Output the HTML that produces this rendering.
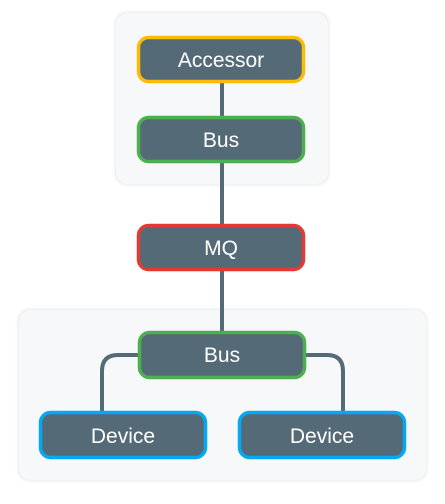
<!DOCTYPE html>
<html><head><style>body{margin:0;background:#fff}</style></head><body>
<svg width="445" height="499" xmlns="http://www.w3.org/2000/svg" font-family="Liberation Sans, sans-serif">
<defs><filter id="s" x="-10%" y="-10%" width="120%" height="120%"><feGaussianBlur stdDeviation="1.5"/></filter></defs>
<rect x="115" y="12" width="214" height="173" rx="12" fill="#e6e9eb" filter="url(#s)"/>
<rect x="116" y="13" width="212" height="171" rx="12" fill="#f7f8f9"/>
<rect x="18" y="309" width="409" height="172" rx="12" fill="#e6e9eb" filter="url(#s)"/>
<rect x="19" y="310" width="407" height="170" rx="12" fill="#f7f8f9"/>
<g stroke="#546a76" stroke-width="4" fill="none">
<line x1="222" y1="83" x2="222" y2="332"/>
<path d="M139 355 H118 Q102 355 102 371 V412"/>
<path d="M304 355 H327 Q343 355 343 371 V412"/>
</g>
<g stroke-width="3.5" fill="#546a76">
<rect x="138.5" y="37.5" width="165" height="44" rx="10" stroke="#fbbc05"/>
<rect x="138.5" y="117.5" width="165" height="44" rx="10" stroke="#4caf50"/>
<rect x="138.5" y="225.5" width="165" height="44" rx="10" stroke="#e53935"/>
<rect x="139.5" y="332.5" width="165" height="45" rx="10" stroke="#4caf50"/>
<rect x="40.5" y="412.5" width="165" height="45" rx="10" stroke="#03a9f4"/>
<rect x="239.5" y="412.5" width="165" height="45" rx="10" stroke="#03a9f4"/>
</g>
<g fill="#fff" font-size="21" text-anchor="middle">
<text x="221" y="67">Accessor</text>
<text x="221" y="147">Bus</text>
<text x="221" y="255">MQ</text>
<text x="222" y="362">Bus</text>
<text x="123" y="443">Device</text>
<text x="322" y="443">Device</text>
</g>
</svg>
</body></html>
